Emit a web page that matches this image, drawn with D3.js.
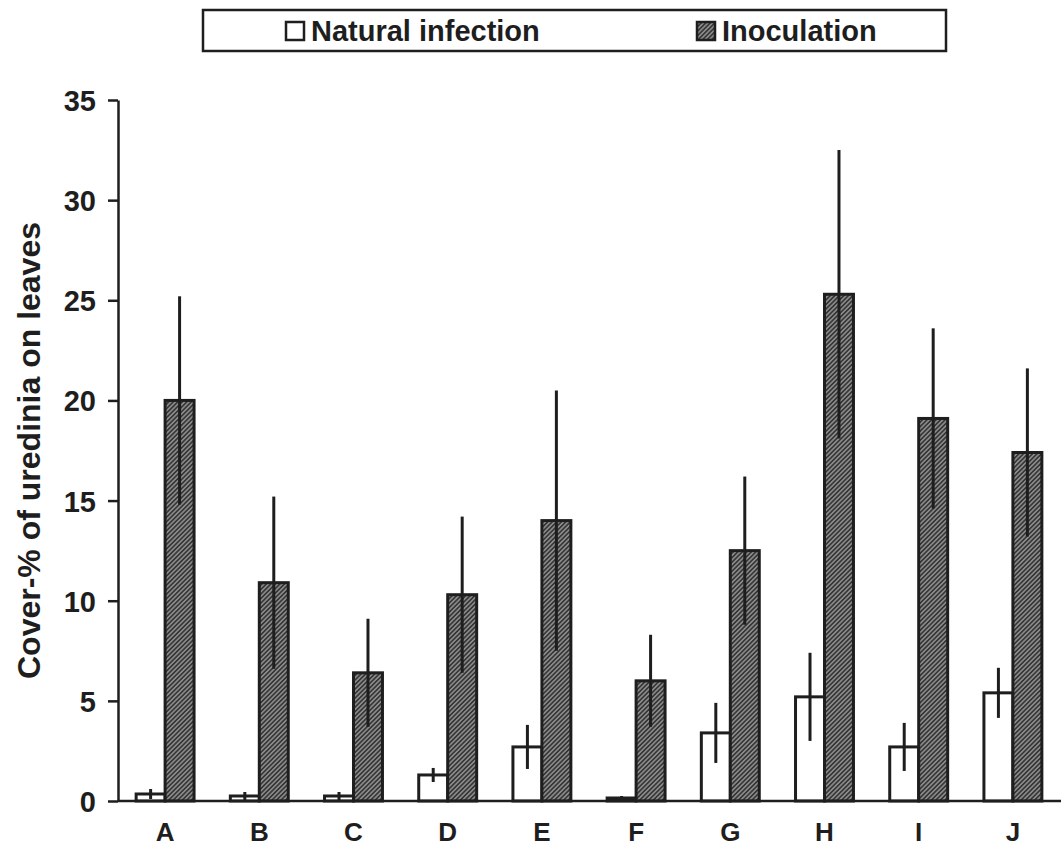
<!DOCTYPE html>
<html>
<head>
<meta charset="utf-8">
<script src="https://cdn.jsdelivr.net/npm/d3@7"></script>
<style>
  html, body { margin: 0; padding: 0; background: #fff; }
  svg { display: block; }
  text { font-family: "Liberation Sans", Arial, Helvetica, sans-serif; font-weight: bold; fill: #1e1e1e; }
</style>
</head>
<body>
<svg id="chart" width="1061" height="861"></svg>
<script>
// Cultivars / lines on the x axis
const categories = ["A", "B", "C", "D", "E", "F", "G", "H", "I", "J"];
const seriesNames = ["Natural infection", "Inoculation"];

// Mean cover-% of uredinia and standard deviations
const naturalMean = [0.35, 0.25, 0.25, 1.3, 2.7, 0.15, 3.4, 5.2, 2.7, 5.4];
const naturalSD   = [0.25, 0.2, 0.2, 0.35, 1.1, 0.1, 1.5, 2.2, 1.2, 1.25];
const inocMean    = [20.0, 10.9, 6.4, 10.3, 14.0, 6.0, 12.5, 25.3, 19.1, 17.4];
const inocSD      = [5.2, 4.3, 2.7, 3.9, 6.5, 2.3, 3.7, 7.2, 4.5, 4.2];

const yTicks = [0, 5, 10, 15, 20, 25, 30, 35];
const yTitle = "Cover-% of uredinia on leaves";

const ink = "#1e1e1e";
const svg = d3.select("#chart");

// Hatched fill used for the inoculation bars
const defs = svg.append("defs");
const pat = defs.append("pattern")
  .attr("id", "hatch")
  .attr("patternUnits", "userSpaceOnUse")
  .attr("width", 3.2).attr("height", 3.2)
  .attr("patternTransform", "rotate(-45)");
pat.append("rect").attr("width", 3.2).attr("height", 3.2).attr("fill", "#363636");
pat.append("line").attr("x1", 0).attr("y1", 1.6).attr("x2", 3.2).attr("y2", 1.6)
  .attr("stroke", "#b0b0b0").attr("stroke-width", 1.1);

const plot = { left: 118, right: 1060, top: 100, bottom: 801 };

const x = d3.scaleBand()
  .domain(categories)
  .range([plot.left, plot.right])
  .paddingInner(0.385)
  .paddingOuter(0.1925);

const xSub = d3.scaleBand()
  .domain(seriesNames)
  .range([0, x.bandwidth()]);

const y = d3.scaleLinear()
  .domain([0, 35])
  .range([plot.bottom, plot.top]);

const rows = categories.map((c, i) => ({
  cat: c,
  values: [
    { series: seriesNames[0], mean: naturalMean[i], sd: naturalSD[i] },
    { series: seriesNames[1], mean: inocMean[i], sd: inocSD[i] }
  ]
}));

// Bars
const groups = svg.append("g").selectAll("g")
  .data(rows).join("g")
  .attr("transform", d => `translate(${x(d.cat)},0)`);

groups.selectAll("rect")
  .data(d => d.values).join("rect")
  .attr("x", d => xSub(d.series))
  .attr("width", xSub.bandwidth())
  .attr("y", d => y(d.mean))
  .attr("height", d => y(0) - y(d.mean))
  .attr("fill", d => d.series === seriesNames[0] ? "#fff" : "url(#hatch)")
  .attr("stroke", ink)
  .attr("stroke-width", 3);

// Error bars (± SD, no caps)
groups.selectAll("line.err")
  .data(d => d.values).join("line")
  .attr("class", "err")
  .attr("x1", d => xSub(d.series) + xSub.bandwidth() / 2)
  .attr("x2", d => xSub(d.series) + xSub.bandwidth() / 2)
  .attr("y1", d => y(Math.max(0, d.mean - d.sd)))
  .attr("y2", d => y(d.mean + d.sd))
  .attr("stroke", ink)
  .attr("stroke-width", 3);

// Y axis
const yAxis = svg.append("g")
  .attr("transform", `translate(${plot.left},0)`)
  .call(d3.axisLeft(y).tickValues(yTicks).tickSize(10).tickSizeOuter(0).tickPadding(12));
yAxis.select(".domain").attr("stroke", ink).attr("stroke-width", 2.5);
yAxis.selectAll(".tick line").attr("stroke", ink).attr("stroke-width", 2.5);
yAxis.selectAll(".tick text")
  .attr("font-size", 29).attr("font-family", null).attr("fill", ink).attr("dy", "0.36em");

// X axis baseline and labels
const xAxis = svg.append("g")
  .attr("transform", `translate(0,${plot.bottom})`)
  .call(d3.axisBottom(x).tickSize(0).tickSizeOuter(0).tickPadding(22));
xAxis.select(".domain").attr("stroke", ink).attr("stroke-width", 2.5)
  .attr("d", `M${plot.left},0H1061`);
xAxis.selectAll(".tick text")
  .attr("font-size", 26).attr("font-family", null).attr("fill", ink);

// Y axis title
svg.append("text")
  .attr("transform", `translate(40,${(plot.top + plot.bottom) / 2}) rotate(-90)`)
  .attr("text-anchor", "middle")
  .attr("font-size", 32)
  .text(yTitle);

// Legend box
const legend = svg.append("g");
legend.append("rect")
  .attr("x", 203).attr("y", 10).attr("width", 743).attr("height", 41)
  .attr("fill", "#fff").attr("stroke", ink).attr("stroke-width", 2.5);

const legendItems = [
  { name: seriesNames[0], fill: "#fff", x: 286 },
  { name: seriesNames[1], fill: "url(#hatch)", x: 697 }
];
const li = legend.selectAll("g.item").data(legendItems).join("g")
  .attr("class", "item")
  .attr("transform", d => `translate(${d.x},0)`);
li.append("rect")
  .attr("x", 0).attr("y", 22).attr("width", 18).attr("height", 18)
  .attr("fill", d => d.fill).attr("stroke", ink).attr("stroke-width", 2.5);
li.append("text")
  .attr("x", 25).attr("y", 41)
  .attr("font-size", 29)
  .text(d => d.name);
</script>
</body>
</html>
